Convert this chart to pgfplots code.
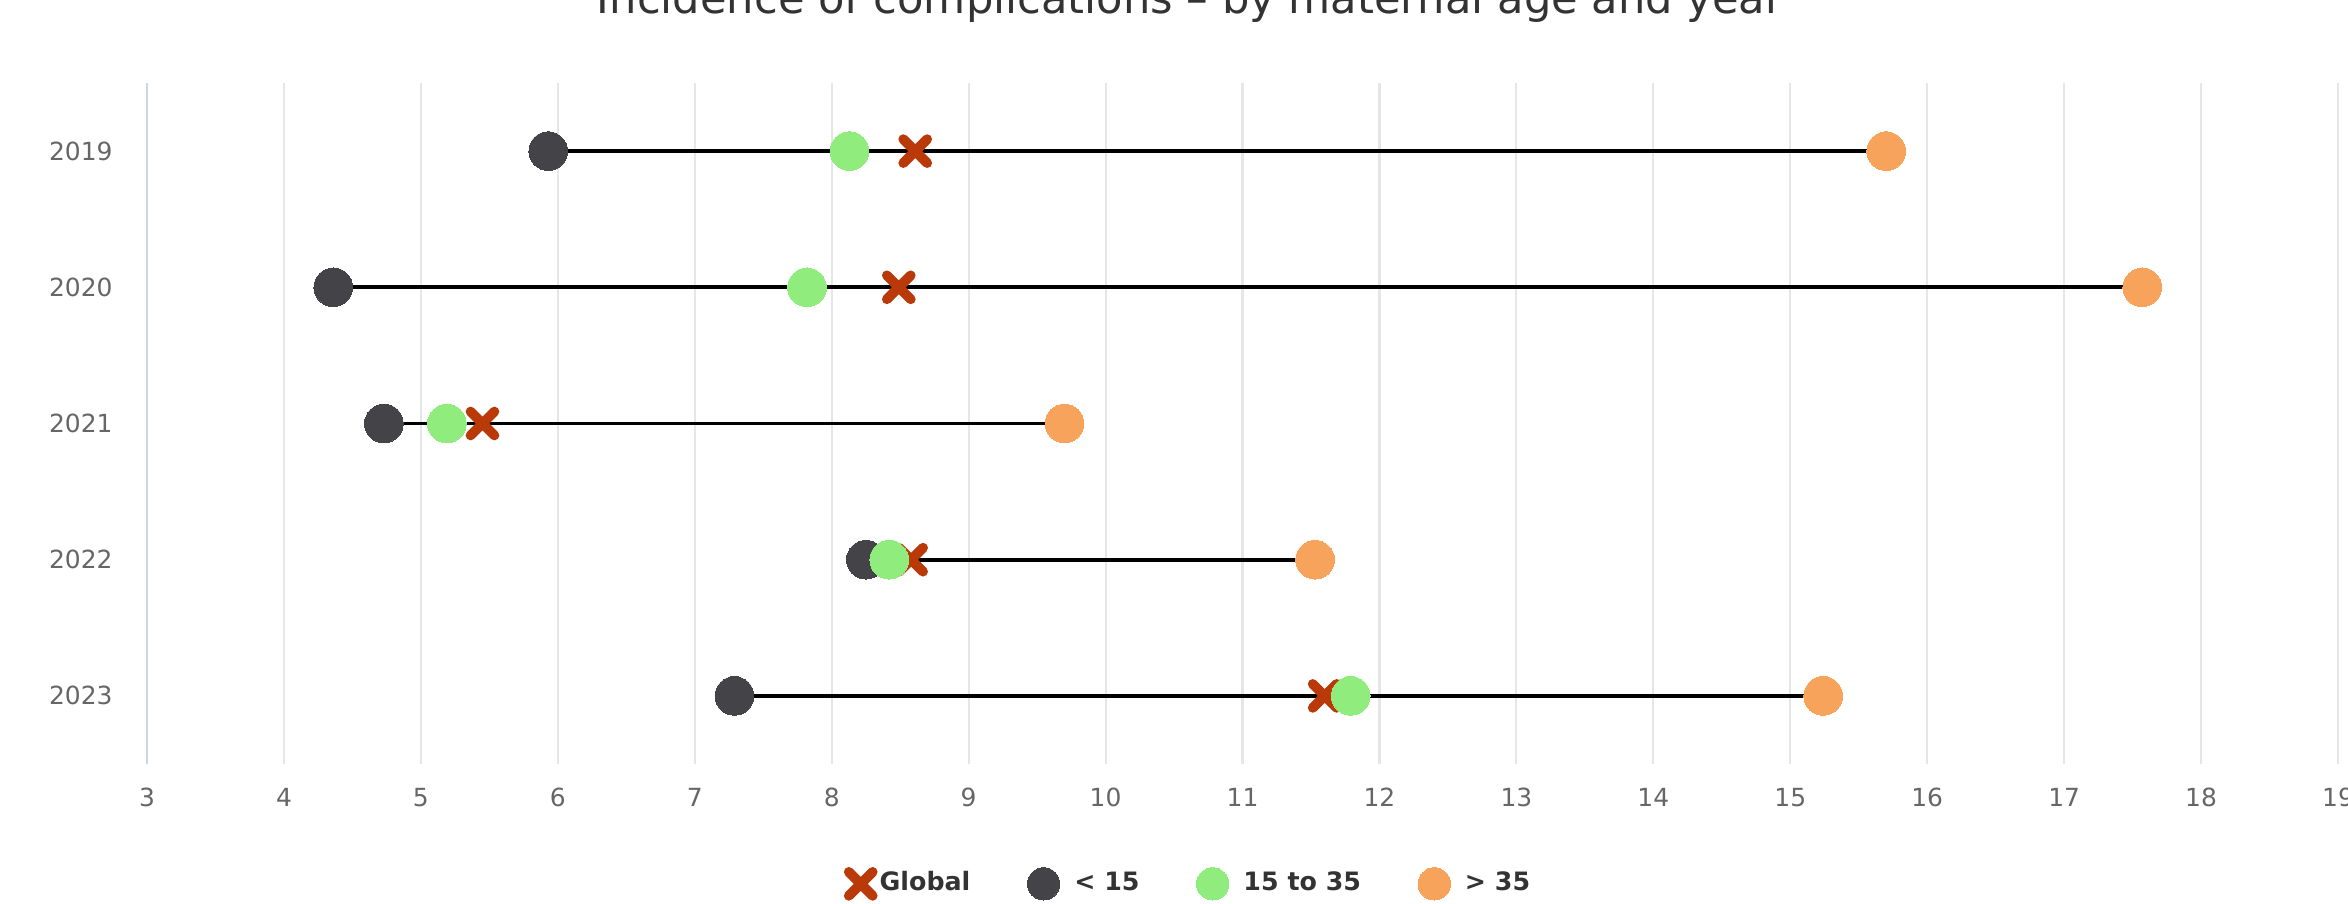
\documentclass[border=0pt]{standalone}
\usepackage{graphicx}
\usepackage{pgfplots}
\pgfplotsset{compat=1.18}
\usepackage{fontspec}
\setmainfont{DejaVu Sans}
\definecolor{cdark}{HTML}{434348}
\definecolor{cgreen}{HTML}{90ED7D}
\definecolor{corange}{HTML}{F7A35C}
\definecolor{cred}{HTML}{B93A08}
\definecolor{cgrid}{HTML}{E6E6E6}
\definecolor{caxis}{HTML}{CCD6EB}
\definecolor{clabel}{HTML}{666666}
\definecolor{ctext}{HTML}{333333}
\pgfplotsset{
  bigleg/.style={legend image code/.code={\draw[##1] plot coordinates {(0.2cm,0cm)};}},
  smallleg/.style={legend image code/.code={\draw[##1, mark size=4.6pt] plot coordinates {(0.2cm,0cm)}; \path (0.43cm,0cm);}},
}
\begin{document}
\begin{tikzpicture}[x=1cm,y=1cm]
\clip (0,0) rectangle (23.48,9.04);
\node[anchor=base, text=ctext, inner sep=0pt] at (11.90,8.90) {\resizebox{11.86cm}{!}{Incidence of complications -- by maternal age and year}};
\begin{axis}[
  at={(1.47cm,1.40cm)}, anchor=south west,
  scale only axis, width=21.91cm, height=6.81cm,
  xmin=3, xmax=19, ymin=0.5, ymax=5.5,
  xtick={3,...,19},
  ytick={1,2,3,4,5}, yticklabels={2023,2022,2021,2020,2019},
  /pgf/number format/assume math mode=true,
  axis x line*=bottom, axis y line*=left,
  x axis line style={draw=none},
  y axis line style={draw=caxis, line width=0.6pt},
  xmajorgrids, grid style={draw=cgrid, line width=0.6pt},
  major tick length=0,
  tick label style={font=\fontsize{7.1}{8.5}\selectfont, text=clabel},
  xticklabel style={yshift=-0.12cm},
  yticklabel style={xshift=-0.22cm},
  legend columns=4,
  legend style={at={(0.4774,-0.176)}, anchor=center, draw=none, fill=none,
    font=\fontsize{7.2}{9}\bfseries\selectfont, text=ctext,
    /tikz/every even column/.append style={column sep=0.5cm}},
]
% Global
\addplot[only marks, mark=x, mark size=4.8pt, mark options={draw=cred, line width=2.8pt, line cap=round}, bigleg]
  coordinates {(8.61,5) (8.49,4) (5.45,3) (8.58,2) (11.60,1)};
\addlegendentry{Global}
% < 15
\addplot[only marks, mark=*, mark size=5.5pt, mark options={draw=cdark, fill=cdark, line width=0pt}, smallleg]
  coordinates {(5.93,5) (4.36,4) (4.73,3) (8.25,2) (7.29,1)};
\addlegendentry{< 15}
% 15 to 35
\addplot[only marks, mark=*, mark size=5.5pt, mark options={draw=cgreen, fill=cgreen, line width=0pt}, smallleg]
  coordinates {(8.13,5) (7.82,4) (5.19,3) (8.42,2) (11.79,1)};
\addlegendentry{15 to 35}
% > 35
\addplot[only marks, mark=*, mark size=5.5pt, mark options={draw=corange, fill=corange, line width=0pt}, smallleg]
  coordinates {(15.70,5) (17.57,4) (9.70,3) (11.53,2) (15.24,1)};
\addlegendentry{> 35}
% connectors
\addplot[black, line width=1.1pt, forget plot] coordinates {(5.93,5) (15.70,5)};
\addplot[black, line width=1.1pt, forget plot] coordinates {(4.36,4) (17.57,4)};
\addplot[black, line width=1.1pt, forget plot] coordinates {(4.73,3) (9.70,3)};
\addplot[black, line width=1.1pt, forget plot] coordinates {(8.25,2) (11.53,2)};
\addplot[black, line width=1.1pt, forget plot] coordinates {(7.29,1) (15.24,1)};
\end{axis}
\end{tikzpicture}
\end{document}
